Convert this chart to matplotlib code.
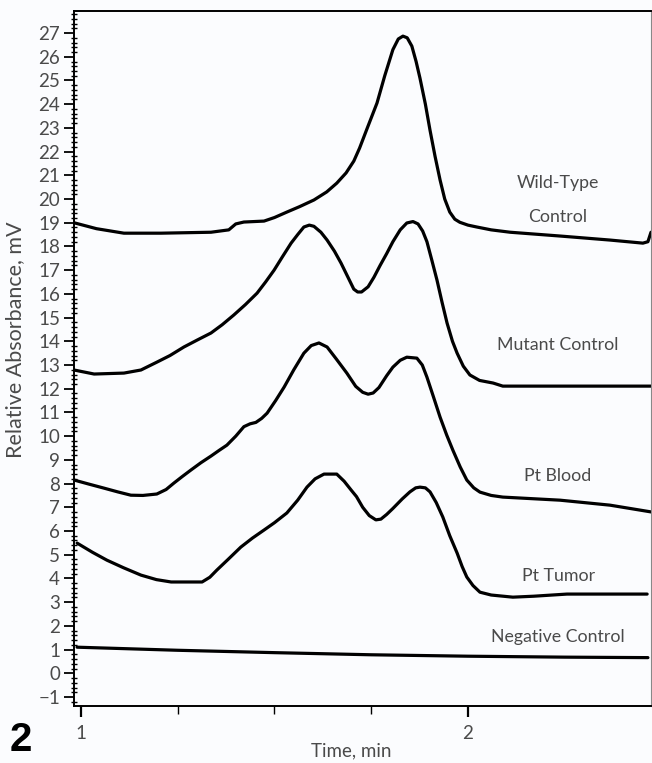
import numpy as np
import matplotlib
matplotlib.use("Agg")
import matplotlib.pyplot as plt
from matplotlib.ticker import MultipleLocator, FixedLocator

# 读图得到的数据 (时间, 吸光度)
wt_t = [0.982, 1.04, 1.111, 1.207, 1.336, 1.382, 1.40, 1.421, 1.473, 1.50, 1.532, 1.565,
        1.602, 1.635, 1.661, 1.685, 1.705, 1.72, 1.74, 1.765, 1.785, 1.806, 1.82, 1.832,
        1.843, 1.855, 1.866, 1.876, 1.89, 1.902, 1.915, 1.928, 1.94, 1.953, 1.966, 1.979,
        2.0, 2.023, 2.06, 2.109, 2.238, 2.367, 2.452, 2.465, 2.473]
wt_y = [19.0, 18.75, 18.56, 18.56, 18.6, 18.7, 18.95, 19.03, 19.07, 19.22, 19.45, 19.68,
        19.96, 20.3, 20.67, 21.1, 21.6, 22.15, 23.0, 24.05, 25.2, 26.3, 26.75, 26.87,
        26.8, 26.45, 25.8, 25.1, 24.0, 22.9, 21.8, 20.8, 20.0, 19.45, 19.15, 19.02,
        18.9, 18.82, 18.7, 18.6, 18.44, 18.27, 18.14, 18.2, 18.6]

mut_t = [0.982, 1.034, 1.111, 1.155, 1.196, 1.23, 1.266, 1.30, 1.336, 1.365, 1.395, 1.425,
         1.455, 1.477, 1.499, 1.52, 1.543, 1.56, 1.576, 1.59, 1.602, 1.62, 1.636, 1.655,
         1.672, 1.69, 1.705, 1.715, 1.725, 1.742, 1.757, 1.773, 1.79, 1.806, 1.825, 1.842,
         1.858, 1.871, 1.883, 1.894, 1.907, 1.920, 1.933, 1.946, 1.96, 1.972, 1.988, 2.005,
         2.03, 2.065, 2.090, 2.475]
mut_y = [12.79, 12.62, 12.66, 12.79, 13.12, 13.4, 13.76, 14.05, 14.35, 14.7, 15.11, 15.55,
         16.03, 16.5, 17.0, 17.55, 18.14, 18.5, 18.82, 18.9, 18.85, 18.6, 18.27, 17.8,
         17.3, 16.7, 16.2, 16.08, 16.08, 16.3, 16.7, 17.2, 17.7, 18.2, 18.7, 18.99,
         19.05, 18.95, 18.65, 18.2, 17.4, 16.58, 15.65, 14.77, 14.0, 13.5, 12.95, 12.58,
         12.35, 12.24, 12.11, 12.11]

blood_t = [0.982, 1.02, 1.059, 1.095, 1.129, 1.16, 1.196, 1.22, 1.240, 1.262, 1.284, 1.31,
           1.336, 1.357, 1.377, 1.40, 1.421, 1.437, 1.452, 1.467, 1.481, 1.503, 1.525, 1.55,
           1.576, 1.595, 1.615, 1.636, 1.66, 1.687, 1.71, 1.728, 1.742, 1.755, 1.77, 1.79,
           1.806, 1.825, 1.842, 1.868, 1.882, 1.894, 1.91, 1.928, 1.945, 1.961, 1.98, 1.997,
           2.015, 2.031, 2.06, 2.090, 2.238, 2.367, 2.475]
blood_y = [8.15, 7.98, 7.81, 7.65, 7.51, 7.5, 7.56, 7.75, 8.02, 8.3, 8.57, 8.88,
           9.16, 9.4, 9.62, 10.0, 10.4, 10.52, 10.58, 10.75, 10.97, 11.5, 12.07, 12.8,
           13.5, 13.82, 13.93, 13.76, 13.25, 12.66, 12.1, 11.85, 11.77, 11.82, 12.05, 12.55,
           12.91, 13.2, 13.33, 13.29, 13.0, 12.49, 11.7, 10.8, 10.05, 9.41, 8.7, 8.15,
           7.82, 7.64, 7.5, 7.43, 7.3, 7.09, 6.8]

tumor_t = [0.990, 1.03, 1.067, 1.11, 1.155, 1.195, 1.233, 1.313, 1.333, 1.351, 1.38, 1.413,
           1.443, 1.473, 1.50, 1.532, 1.56, 1.584, 1.605, 1.628, 1.661, 1.68, 1.698, 1.712,
           1.728, 1.745, 1.762, 1.775, 1.79, 1.806, 1.83, 1.850, 1.865, 1.876, 1.89, 1.902,
           1.918, 1.935, 1.953, 1.972, 1.985, 1.997, 2.013, 2.031, 2.06, 2.116, 2.17, 2.256,
           2.463]
tumor_y = [5.49, 5.1, 4.77, 4.45, 4.14, 3.95, 3.85, 3.85, 4.05, 4.35, 4.8, 5.32,
           5.7, 6.04, 6.35, 6.76, 7.3, 7.85, 8.2, 8.4, 8.4, 8.1, 7.73, 7.45,
           7.0, 6.65, 6.47, 6.5, 6.7, 6.95, 7.35, 7.65, 7.82, 7.85, 7.82, 7.65,
           7.2, 6.59, 5.8, 5.07, 4.5, 4.06, 3.7, 3.42, 3.3, 3.21, 3.25, 3.34,
           3.34]

neg_t = [0.99, 1.25, 1.5, 1.75, 2.0, 2.25, 2.465]
neg_y = [1.1, 0.97, 0.87, 0.78, 0.72, 0.68, 0.66]

labels = ["Wild-Type", "Control", "Mutant Control", "Pt Blood", "Pt Tumor", "Negative Control"]
label_y = [20.67, 19.24, 13.84, 8.32, 4.1, 1.53]

fnt = "Lato"
gray = "#4a4a4a"

fig = plt.figure(figsize=(6.52, 7.63), dpi=100)
fig.patch.set_facecolor("#fbfcfe")
ax = fig.add_axes([74/652, 1-706/763, 577/652, 695/763])
ax.set_facecolor("#fbfcfe")

for t, y in [(wt_t, wt_y), (mut_t, mut_y), (blood_t, blood_y), (tumor_t, tumor_y), (neg_t, neg_y)]:
    ax.plot(t, y, color="black", lw=2.3, solid_joinstyle="round", solid_capstyle="round")

for s, yy in zip(labels, label_y):
    ax.text(2.233, yy, s, ha="center", va="center", fontsize=12.8, color=gray, family=fnt)

ax.set_xlim(0.982, 2.473)
ax.set_ylim(-1.38, 27.93)

# 坐标轴刻度
ax.yaxis.set_minor_locator(MultipleLocator(0.2))
ax.xaxis.set_major_locator(FixedLocator([1, 2]))
ax.xaxis.set_minor_locator(FixedLocator([1.25, 1.5, 1.75]))
ax.set_xticklabels(["1", "2"])
ax.set_yticks(range(-1, 28))
ax.set_yticklabels([("\u2212" + str(-v)) if v < 0 else str(v) for v in range(-1, 28)])
ax.tick_params(axis="y", which="major", direction="out", length=7, width=1.3, pad=3,
               labelsize=13.5, labelcolor=gray)
ax.tick_params(axis="y", which="minor", direction="inout", length=5, width=1.0)
ax.tick_params(axis="x", which="major", direction="out", length=8, width=1.6, pad=6,
               labelsize=13.5, labelcolor=gray)
ax.tick_params(axis="x", which="minor", direction="out", length=6, width=1.0)
for lab in ax.get_xticklabels() + ax.get_yticklabels():
    lab.set_family(fnt)

for sp in ax.spines.values():
    sp.set_linewidth(1.4)
ax.spines["right"].set_linewidth(0.8)
ax.spines["right"].set_color("#888888")

fig.text(15/652, 1-340/763, "Relative Absorbance, mV", rotation=90, ha="center", va="center",
         fontsize=15.5, color=gray, family=fnt)
fig.text(351/652, 1-751/763, "Time, min", ha="center", va="center",
         fontsize=13.5, color=gray, family=fnt)
fig.text(21/652, 1-740/763, "2", ha="center", va="center", fontsize=29, fontweight="bold",
         color="black", family="Liberation Sans")

fig.savefig("out.png", dpi=100, facecolor=fig.get_facecolor())
